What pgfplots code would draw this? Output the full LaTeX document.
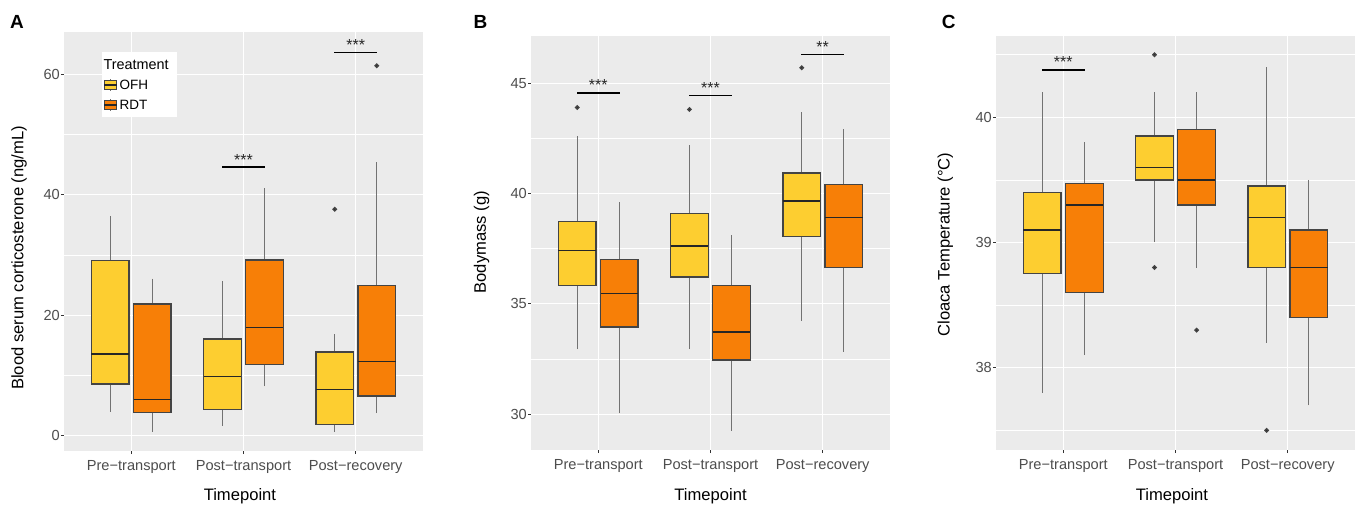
\documentclass[border=0pt]{standalone}
\usepackage{fontspec}
\setmainfont{Liberation Sans}
\usepackage{pgfplots}
\pgfplotsset{compat=1.18}
\usepgfplotslibrary{statistics}

\definecolor{ggbg}{HTML}{EBEBEB}
\definecolor{ofh}{HTML}{FDCE30}
\definecolor{rdt}{HTML}{F77F07}
\definecolor{boxline}{HTML}{444444}
\definecolor{whisk}{HTML}{727272}
\definecolor{ticktxt}{HTML}{4D4D4D}
\definecolor{tickcol}{HTML}{333333}
\definecolor{ptcol}{HTML}{262626}

\pgfplotsset{
	boxplot/draw direction=y,
	boxplot/box extend=0.335,
	boxplot/whisker extend=0,
	boxplot/every whisker/.style={draw=whisk, line width=1.1bp},
	boxplot/every median/.style={draw=ptcol, line width=1.3bp},
	ggpanel/.style={
		scale only axis,
		width=359bp,
		axis background/.style={fill=ggbg},
		axis line style={draw=none},
		xmin=0.4, xmax=3.6,
		xtick={1,2,3},
		xticklabels={Pre−transport, Post−transport, Post−recovery},
		xmajorgrids, ymajorgrids, yminorgrids,
		major grid style={white, line width=1.1bp},
		minor grid style={white, line width=0.5bp},
		tick pos=left, tick align=outside,
		major tick length=3bp, minor tick length=0pt,
		tick style={tickcol, line width=0.9bp},
		ticklabel style={font=\fontsize{14.6bp}{16bp}\selectfont, text=ticktxt, inner sep=0pt},
		xticklabel style={yshift=-6.5bp},
		yticklabel style={xshift=-1bp},
		/pgf/number format/assume math mode=true,
		xlabel={Timepoint},
		label style={font=\fontsize{16.6bp}{19bp}\selectfont},
		clip=false,
	},
	ggbox/.style={
		draw=boxline, line width=1.3bp,
		mark=*, mark size=1.7bp, mark options={fill=ptcol, draw=none, solid},
	},
	ofhbox/.style={ggbox, fill=ofh},
	rdtbox/.style={ggbox, fill=rdt},
	sig/.style={black, line width=1.4bp},
}
\newcommand{\stars}[1]{node[pos=0.5, anchor=base, inner sep=0pt, yshift=2bp, text=ptcol, font=\fontsize{16bp}{18bp}\selectfont]{#1}}

\begin{document}
\begin{tikzpicture}
\useasboundingbox (0,0) rectangle (1360bp,507bp);

% A: corticosterone
\begin{axis}[ggpanel, at={(64bp,56bp)}, anchor=south west, height=419bp,
	ymin=-2.5, ymax=67, ytick={0,20,40,60}, minor ytick={10,30,50},
	ylabel={Blood serum corticosterone (ng/mL)},
	ylabel style={at={(axis description cs:-0.1253,0.461)}, anchor=center},
	xlabel style={at={(axis description cs:0.49,-0.107)}, anchor=center}]
	\addplot[ofhbox, boxplot prepared={draw position=0.8125, lower whisker=4.0, lower quartile=8.6, median=13.6, upper quartile=29.1, upper whisker=36.5}] coordinates {};
	\addplot[rdtbox, boxplot prepared={draw position=1.1875, lower whisker=0.7, lower quartile=3.9, median=6.0, upper quartile=21.9, upper whisker=26.1}] coordinates {};
	\addplot[ofhbox, boxplot prepared={draw position=1.8125, lower whisker=1.7, lower quartile=4.4, median=9.9, upper quartile=16.1, upper whisker=25.7}] coordinates {};
	\addplot[rdtbox, boxplot prepared={draw position=2.1875, lower whisker=8.2, lower quartile=11.9, median=18.0, upper quartile=29.2, upper whisker=41.1}] coordinates {};
	\addplot[ofhbox, boxplot prepared={draw position=2.8125, lower whisker=0.7, lower quartile=1.9, median=7.7, upper quartile=13.9, upper whisker=16.9}] coordinates {(0,37.6)};
	\addplot[rdtbox, boxplot prepared={draw position=3.1875, lower whisker=3.8, lower quartile=6.6, median=12.4, upper quartile=24.9, upper whisker=45.4}] coordinates {(0,61.4)};
	\addplot[sig] coordinates {(1.81,44.6) (2.19,44.6)} \stars{***};
	\addplot[sig] coordinates {(2.81,63.6) (3.19,63.6)} \stars{***};
\end{axis}

% B: bodymass
\begin{axis}[ggpanel, at={(531bp,57bp)}, anchor=south west, height=414bp,
	ymin=28.37, ymax=47.15, ytick={30,35,40,45}, minor ytick={32.5,37.5,42.5},
	ylabel={Bodymass (g)},
	ylabel style={at={(axis description cs:-0.138,0.502)}, anchor=center},
	xlabel style={at={(axis description cs:0.5,-0.111)}, anchor=center}]
	\addplot[ofhbox, boxplot prepared={draw position=0.8125, lower whisker=32.94, lower quartile=35.82, median=37.43, upper quartile=38.72, upper whisker=42.61}] coordinates {(0,43.91)};
	\addplot[rdtbox, boxplot prepared={draw position=1.1875, lower whisker=30.03, lower quartile=33.95, median=35.48, upper quartile=37.02, upper whisker=39.60}] coordinates {};
	\addplot[ofhbox, boxplot prepared={draw position=1.8125, lower whisker=32.94, lower quartile=36.22, median=37.62, upper quartile=39.10, upper whisker=42.20}] coordinates {(0,43.82)};
	\addplot[rdtbox, boxplot prepared={draw position=2.1875, lower whisker=29.24, lower quartile=32.45, median=33.72, upper quartile=35.84, upper whisker=38.11}] coordinates {};
	\addplot[ofhbox, boxplot prepared={draw position=2.8125, lower whisker=34.23, lower quartile=38.07, median=39.66, upper quartile=40.93, upper whisker=43.68}] coordinates {(0,45.71)};
	\addplot[rdtbox, boxplot prepared={draw position=3.1875, lower whisker=32.83, lower quartile=36.65, median=38.92, upper quartile=40.42, upper whisker=42.91}] coordinates {};
	\addplot[sig] coordinates {(0.81,44.57) (1.19,44.57)} \stars{***};
	\addplot[sig] coordinates {(1.81,44.44) (2.19,44.44)} \stars{***};
	\addplot[sig] coordinates {(2.81,46.30) (3.19,46.30)} \stars{**};
\end{axis}

% C: cloaca temperature
\begin{axis}[ggpanel, at={(996bp,57bp)}, anchor=south west, height=414bp,
	ymin=37.343, ymax=40.649, ytick={38,39,40}, minor ytick={37.5,38.5,39.5,40.5},
	ylabel={Cloaca Temperature (°C)},
	ylabel style={at={(axis description cs:-0.141,0.496)}, anchor=center},
	xlabel style={at={(axis description cs:0.49,-0.111)}, anchor=center}]
	\addplot[ofhbox, boxplot prepared={draw position=0.8125, lower whisker=37.80, lower quartile=38.75, median=39.10, upper quartile=39.40, upper whisker=40.20}] coordinates {};
	\addplot[rdtbox, boxplot prepared={draw position=1.1875, lower whisker=38.10, lower quartile=38.60, median=39.30, upper quartile=39.47, upper whisker=39.80}] coordinates {};
	\addplot[ofhbox, boxplot prepared={draw position=1.8125, lower whisker=39.00, lower quartile=39.50, median=39.60, upper quartile=39.85, upper whisker=40.20}] coordinates {(0,40.50) (0,38.80)};
	\addplot[rdtbox, boxplot prepared={draw position=2.1875, lower whisker=38.80, lower quartile=39.30, median=39.50, upper quartile=39.90, upper whisker=40.20}] coordinates {(0,38.30)};
	\addplot[ofhbox, boxplot prepared={draw position=2.8125, lower whisker=38.20, lower quartile=38.80, median=39.20, upper quartile=39.45, upper whisker=40.40}] coordinates {(0,37.50)};
	\addplot[rdtbox, boxplot prepared={draw position=3.1875, lower whisker=37.70, lower quartile=38.40, median=38.80, upper quartile=39.10, upper whisker=39.50}] coordinates {};
	\addplot[sig] coordinates {(0.81,40.378) (1.19,40.378)} \stars{***};
\end{axis}

% legend of panel A
\fill[white] (101.7bp,389.7bp) rectangle (176.7bp,455.3bp);
\node[anchor=base west, inner sep=0pt, font=\fontsize{14.4bp}{16bp}\selectfont] at (103.3bp,437.7bp) {Treatment};
\draw[whisk, line width=0.9bp] (110.3bp,416.3bp) -- (110.3bp,427.7bp);
\draw[boxline, line width=1bp, fill=ofh] (104bp,417.7bp) rectangle (116.6bp,426.3bp);
\draw[ptcol, line width=1.1bp] (104bp,422bp) -- (116.6bp,422bp);
\draw[whisk, line width=0.9bp] (110.3bp,396.3bp) -- (110.3bp,407.7bp);
\draw[boxline, line width=1bp, fill=rdt] (104bp,397.7bp) rectangle (116.6bp,406.3bp);
\draw[ptcol, line width=1.1bp] (104bp,402bp) -- (116.6bp,402bp);
\node[anchor=base west, inner sep=0pt, font=\fontsize{13.5bp}{16bp}\selectfont] at (119.5bp,417bp) {OFH};
\node[anchor=base west, inner sep=0pt, font=\fontsize{13.5bp}{16bp}\selectfont] at (119.5bp,397bp) {RDT};

% panel letters
\node[anchor=base west, inner sep=0pt, font=\bfseries\fontsize{19bp}{22bp}\selectfont] at (10bp,478.7bp) {A};
\node[anchor=base west, inner sep=0pt, font=\bfseries\fontsize{19bp}{22bp}\selectfont] at (473.3bp,478.7bp) {B};
\node[anchor=base west, inner sep=0pt, font=\bfseries\fontsize{19bp}{22bp}\selectfont] at (941.7bp,478.7bp) {C};
\end{tikzpicture}
\end{document}
